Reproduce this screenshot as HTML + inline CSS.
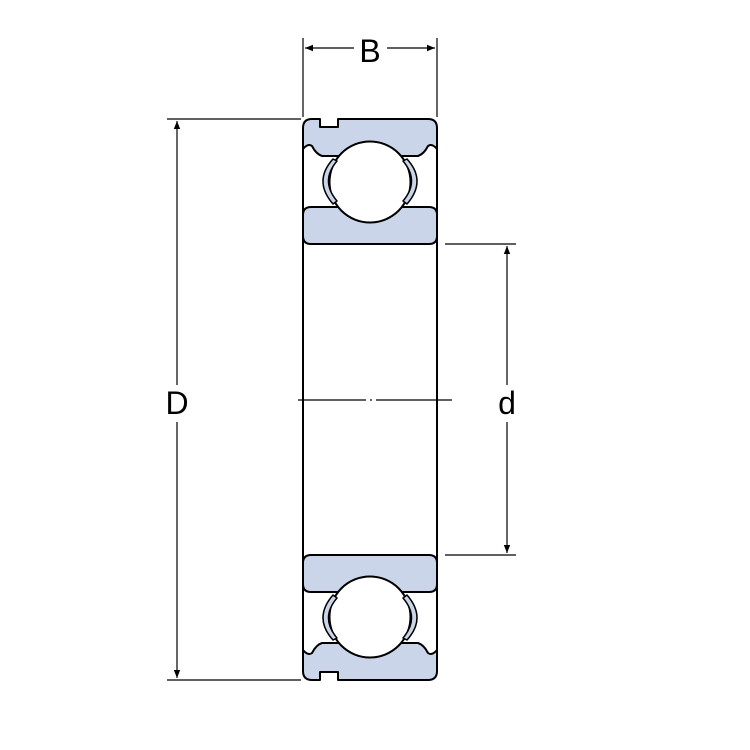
<!DOCTYPE html>
<html><head><style>body{margin:0;background:#fff}svg{display:block}</style></head>
<body>
<svg width="750" height="750" viewBox="0 0 750 750" xmlns="http://www.w3.org/2000/svg">
<defs>
<g id="half" stroke="#000" stroke-width="2" stroke-linejoin="round">
  <path d="M303,149 L303,128 Q303,119 312,119 L320,119 L320,127 L338,127 L338,119 L428,119 Q437,119 437,128 L437,149 Q432,143 428,146 Q424,154 418,156 L322,156 Q316,154 312,146 Q308,143 303,149 Z" fill="#cbd5ea"/>
  <path d="M303,244 L303,215 Q303,207 311,207 L429,207 Q437,207 437,215 L437,236 Q437,244 429,244 L311,244 Q303,244 303,236 Z" fill="#cbd5ea"/>
  <circle cx="370" cy="182" r="40.5" fill="#fff"/>
  <path d="M333,159 Q313,181 333,204 L337,201 Q320,181 337,161 Z" fill="#cbd5ea" stroke-width="1.5"/>
  <path d="M407,159 Q427,181 407,204 L403,201 Q420,181 403,161 Z" fill="#cbd5ea" stroke-width="1.5"/>
</g>
<marker id="a" viewBox="0 0 10 10" refX="10" refY="5" markerWidth="18" markerHeight="8" markerUnits="userSpaceOnUse" orient="auto-start-reverse"><path d="M0,1 L10,5 L0,9 Z" fill="#000"/></marker>
</defs>
<line x1="303" y1="140" x2="303" y2="660" stroke="#000" stroke-width="2"/>
<line x1="437" y1="140" x2="437" y2="660" stroke="#000" stroke-width="2"/>
<use href="#half"/>
<use href="#half" transform="translate(0,799) scale(1,-1)"/>
<g stroke="#000" stroke-width="1.2" fill="none">
  <line x1="303" y1="38" x2="303" y2="117"/>
  <line x1="437" y1="38" x2="437" y2="117"/>
  <line x1="305" y1="48" x2="354" y2="48" marker-start="url(#a)"/>
  <line x1="387" y1="48" x2="435" y2="48" marker-end="url(#a)"/>
  <line x1="167" y1="119" x2="301" y2="119"/>
  <line x1="167" y1="680" x2="301" y2="680"/>
  <line x1="177" y1="121" x2="177" y2="385" marker-start="url(#a)"/>
  <line x1="177" y1="422" x2="177" y2="678" marker-end="url(#a)"/>
  <line x1="445" y1="244" x2="516" y2="244"/>
  <line x1="445" y1="555" x2="516" y2="555"/>
  <line x1="507" y1="246" x2="507" y2="385" marker-start="url(#a)"/>
  <line x1="507" y1="422" x2="507" y2="553" marker-end="url(#a)"/>
  <line x1="298" y1="400" x2="366" y2="400"/>
  <line x1="370" y1="400" x2="372" y2="400"/>
  <line x1="376" y1="400" x2="452" y2="400"/>
</g>
<g font-family="Liberation Sans, sans-serif" font-size="32" text-anchor="middle" fill="#000">
  <text x="370" y="62">B</text>
  <text x="177" y="414">D</text>
  <text x="507" y="414">d</text>
</g>
</svg>
</body></html>
